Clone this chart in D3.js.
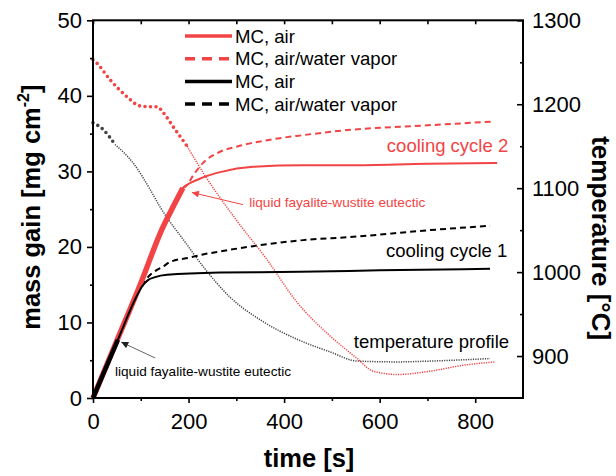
<!DOCTYPE html>
<html><head><meta charset="utf-8">
<script src="https://cdn.jsdelivr.net/npm/d3@7"></script>
<style>
body{margin:0;background:#fff;}
text{font-family:Arial,"Liberation Sans",sans-serif;}
</style></head><body>
<svg id="chart" width="616" height="476"></svg>
<script>
// Axis ticks
const timeTicks = [0, 200, 400, 600, 800];
const timeMinor = [100, 300, 500, 700];
const massTicks = [0, 10, 20, 30, 40, 50];
const massMinor = [5, 15, 25, 35, 45];
const tempTicks = [900, 1000, 1100, 1200, 1300];
const tempMinor = [950, 1050, 1150, 1250];

// Mass gain [mg cm^-2] vs time [s]
const airCycle2 = [[0,0],[50,7.6],[100,15.2],[144,22.3],[170,25.6],[188,27.8],[205,28.5],[230,29.2],[266,29.9],[335,30.6],[440,30.8],[538,30.8],[700,31.0],[846,31.1]];
const vaporCycle2 = [[188,27.8],[197,28.2],[209,29.4],[230,31.1],[266,32.6],[302,33.3],[371,34.2],[440,34.8],[538,35.5],[700,36.1],[838,36.6]];
const airCycle1 = [[0,0],[52,7.7],[90,13.3],[103,14.8],[115,15.6],[130,16.0],[155,16.3],[266,16.6],[433,16.7],[600,16.9],[831,17.1]];
const vaporCycle1 = [[103,14.8],[115,16.0],[130,16.8],[147,17.4],[161,18.0],[203,18.6],[230,19.0],[266,19.4],[335,20.1],[440,20.9],[538,21.3],[700,22.2],[831,22.8]];

// Temperature profiles [°C] vs time [s]
const tempCycle2 = [[0,1253],[8,1249],[36,1229],[71,1209],[98,1198],[120,1197],[134,1197],[147,1190],[168,1173],[197,1150],[231,1118],[300,1062],[364,1015],[427,964],[496,924],[553,897],[586,882],[637,878],[706,882],[775,889],[842,893]];
const tempCycle1 = [[0,1178],[21,1170],[46,1152],[84,1130],[120,1098],[140,1078],[161,1060],[186,1041],[230,1007],[287,970],[356,941],[427,920],[496,905],[553,894],[637,893],[706,894],[831,897]];

// Cut-off times for the densely sampled (heavier) early segments
const denseEnd = { airCycle2: 188, airCycle1: 55, tempCycle2: 197, tempCycle1: 46 };

const RED = "#f24444", BLACK = "#000", GREY = "#444";

const svg = d3.select("#chart");
const m = { left: 93, top: 20.3, right: 93, bottom: 78 };
const W = 616 - m.left - m.right, H = 476 - m.top - m.bottom;
const g = svg.append("g").attr("transform", `translate(${m.left},${m.top})`);

const x = d3.scaleLinear().domain([0, 900]).range([0, W]);
const y = d3.scaleLinear().domain([0, 50]).range([H, 0]);
const yT = d3.scaleLinear().domain([850, 1300]).range([H, 0]);

const lineM = d3.line().x(d => x(d[0])).y(d => y(d[1])).curve(d3.curveMonotoneX);
const lineT = d3.line().x(d => x(d[0])).y(d => yT(d[1])).curve(d3.curveMonotoneX);

// temperature profiles (dotted)
function tempPath(data, end, color) {
  g.append("path").attr("d", lineT(data.filter(d => d[0] >= end - 1)))
    .attr("fill", "none").attr("stroke", color).attr("stroke-width", 1.5)
    .attr("stroke-dasharray", "1.2,1.2");
  g.append("path").attr("d", lineT(data.filter(d => d[0] <= end)))
    .attr("fill", "none").attr("stroke", color).attr("stroke-width", 3.6)
    .attr("stroke-linecap", "round").attr("stroke-dasharray", "0,5.5");
}
tempPath(tempCycle1, denseEnd.tempCycle1, GREY);
tempPath(tempCycle2, denseEnd.tempCycle2, RED);

// mass gain curves
g.append("path").attr("d", lineM(vaporCycle1)).attr("fill", "none")
  .attr("stroke", BLACK).attr("stroke-width", 2).attr("stroke-dasharray", "6,4");
g.append("path").attr("d", lineM(vaporCycle2)).attr("fill", "none")
  .attr("stroke", RED).attr("stroke-width", 2).attr("stroke-dasharray", "6,4");
g.append("path").attr("d", lineM(airCycle2)).attr("fill", "none")
  .attr("stroke", RED).attr("stroke-width", 2);
g.append("path").attr("d", lineM(airCycle2.filter(d => d[0] <= denseEnd.airCycle2))).attr("fill", "none")
  .attr("stroke", RED).attr("stroke-width", 5.5);
g.append("path").attr("d", lineM(airCycle1)).attr("fill", "none")
  .attr("stroke", BLACK).attr("stroke-width", 2);
g.append("path").attr("d", lineM(airCycle1.filter(d => d[0] <= denseEnd.airCycle1))).attr("fill", "none")
  .attr("stroke", BLACK).attr("stroke-width", 4.5);

// axes
function styleAxis(sel, size) {
  sel.select(".domain").remove();
  sel.selectAll(".tick line").attr("stroke", "#000").attr("stroke-width", 1.6);
  sel.selectAll(".tick text").attr("font-size", size).attr("fill", "#000")
    .attr("font-family", "Arial, 'Liberation Sans', sans-serif");
}
const fontTick = 22;
const fmt = d3.format("d");
g.append("g").attr("transform", `translate(0,${H})`)
  .call(d3.axisBottom(x).tickValues(timeTicks).tickFormat(fmt).tickSize(5).tickPadding(10)).call(s => styleAxis(s, fontTick));
g.append("g").attr("transform", `translate(0,${H})`)
  .call(d3.axisBottom(x).tickValues(timeMinor).tickSize(3).tickFormat("")).call(s => styleAxis(s, fontTick));
g.append("g")
  .call(d3.axisBottom(x).tickValues(timeTicks.concat(timeMinor)).tickSize(4).tickFormat("")).call(s => styleAxis(s, fontTick));
g.append("g")
  .call(d3.axisLeft(y).tickValues(massTicks).tickFormat(fmt).tickSize(6).tickPadding(5)).call(s => styleAxis(s, fontTick));
g.append("g")
  .call(d3.axisLeft(y).tickValues(massMinor).tickSize(3).tickFormat("")).call(s => styleAxis(s, fontTick));
g.append("g").attr("transform", `translate(${W},0)`)
  .call(d3.axisRight(yT).tickValues(tempTicks).tickFormat(fmt).tickSizeInner(-6).tickSizeOuter(0).tickPadding(9)).call(s => styleAxis(s, fontTick));
g.append("g").attr("transform", `translate(${W},0)`)
  .call(d3.axisRight(yT).tickValues(tempMinor).tickSizeInner(-3).tickSizeOuter(0).tickFormat("")).call(s => styleAxis(s, fontTick));

// frame
g.append("rect").attr("width", W).attr("height", H).attr("fill", "none")
  .attr("stroke", "#000").attr("stroke-width", 2);

// axis titles
svg.append("text").attr("x", m.left + W / 2 + 1).attr("y", 467).attr("text-anchor", "middle")
  .attr("font-size", 25.5).attr("font-weight", "bold").text("time [s]");
const yl = svg.append("text").attr("transform", `translate(40,${m.top + H / 2 - 2}) rotate(-90)`)
  .attr("text-anchor", "middle").attr("font-size", 25.5).attr("font-weight", "bold");
yl.append("tspan").text("mass gain [mg cm");
yl.append("tspan").attr("font-size", 16).attr("dy", -11).text("-2");
yl.append("tspan").attr("dy", 11).text("]");
svg.append("text").attr("transform", `translate(592,${m.top + H / 2 + 29}) rotate(90)`)
  .attr("text-anchor", "middle").attr("font-size", 26).attr("font-weight", "bold").text("temperature [°C]");

// legend
const legendItems = [
  { label: "MC, air", color: RED, dash: null },
  { label: "MC, air/water vapor", color: RED, dash: "10,7" },
  { label: "MC, air", color: BLACK, dash: null },
  { label: "MC, air/water vapor", color: BLACK, dash: "10,7" }
];
const lg = svg.append("g").attr("transform", "translate(185,36)");
legendItems.forEach((it, i) => {
  const row = lg.append("g").attr("transform", `translate(0,${i * 22.7})`);
  row.append("line").attr("x1", 0).attr("x2", 47).attr("stroke", it.color)
    .attr("stroke-width", 3.5).attr("stroke-dasharray", it.dash);
  row.append("text").attr("x", 50).attr("dy", "0.35em").attr("font-size", 18.6).attr("fill", "#000").text(it.label);
});

// annotations
svg.append("defs").selectAll("marker").data([["arrRed", RED], ["arrBlack", "#222"]]).join("marker")
  .attr("id", d => d[0]).attr("viewBox", "0 0 10 10").attr("refX", 10).attr("refY", 5)
  .attr("markerWidth", 9).attr("markerHeight", 7).attr("markerUnits", "userSpaceOnUse").attr("orient", "auto")
  .append("path").attr("d", "M0,0 L10,5 L0,10 z").attr("fill", d => d[1]);

g.append("line").attr("x1", x(314)).attr("y1", y(25.6)).attr("x2", x(207)).attr("y2", y(27.2))
  .attr("stroke", RED).attr("stroke-width", 1).attr("marker-end", "url(#arrRed)");
g.append("text").attr("x", x(327)).attr("y", y(25.3)).attr("font-size", 13.6).attr("fill", RED)
  .text("liquid fayalite-wustite eutectic");
g.append("line").attr("x1", x(130)).attr("y1", y(5.3)).attr("x2", x(59)).attr("y2", y(7.4))
  .attr("stroke", "#666").attr("stroke-width", 1).attr("marker-end", "url(#arrBlack)");
g.append("text").attr("x", x(46)).attr("y", y(2.9)).attr("font-size", 13.6).attr("fill", "#000")
  .text("liquid fayalite-wustite eutectic");

g.append("text").attr("x", x(869)).attr("y", y(32.5)).attr("text-anchor", "end")
  .attr("font-size", 18.5).attr("fill", RED).text("cooling cycle 2");
g.append("text").attr("x", x(867)).attr("y", y(18.7)).attr("text-anchor", "end")
  .attr("font-size", 18.5).attr("fill", "#000").text("cooling cycle 1");
g.append("text").attr("x", x(871)).attr("y", y(6.6)).attr("text-anchor", "end")
  .attr("font-size", 18.5).attr("fill", "#000").text("temperature profile");
</script>
</body></html>
